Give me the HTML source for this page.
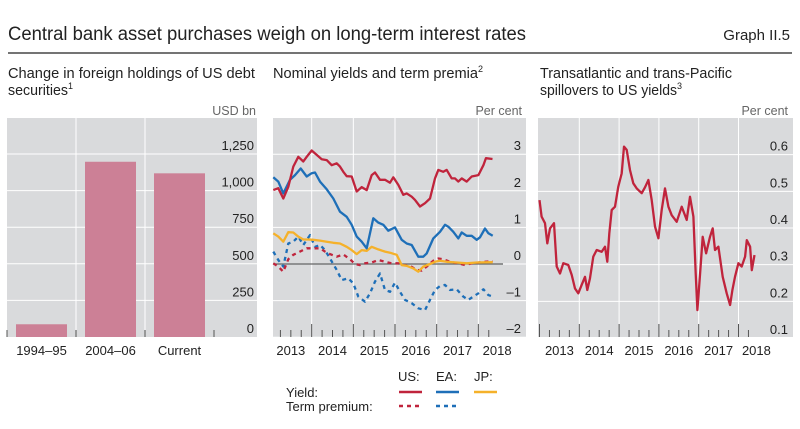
<!DOCTYPE html>
<html><head><meta charset="utf-8"><style>
body{margin:0;background:#fff}
svg text{font-family:"Liberation Sans",sans-serif;fill:#222}
</style></head><body>
<svg width="800" height="424" viewBox="0 0 800 424" xmlns="http://www.w3.org/2000/svg">
<text x="8" y="40" font-size="19" textLength="518" lengthAdjust="spacingAndGlyphs">Central bank asset purchases weigh on long-term interest rates</text>
<text x="790" y="40" font-size="15" text-anchor="end">Graph II.5</text>
<line x1="8" y1="53" x2="792" y2="53" stroke="#222" stroke-width="1.2"/>
<text x="8" y="78" font-size="14.5" textLength="247" lengthAdjust="spacingAndGlyphs">Change in foreign holdings of US debt</text>
<text x="8" y="95" font-size="14.5"><tspan textLength="60" lengthAdjust="spacingAndGlyphs">securities</tspan><tspan font-size="9" dy="-6">1</tspan></text>
<text x="273" y="78" font-size="14.5"><tspan textLength="205" lengthAdjust="spacingAndGlyphs">Nominal yields and term premia</tspan><tspan font-size="9" dy="-6">2</tspan></text>
<text x="540" y="78" font-size="14.5" textLength="192" lengthAdjust="spacingAndGlyphs">Transatlantic and trans-Pacific</text>
<text x="540" y="95" font-size="14.5"><tspan textLength="137" lengthAdjust="spacingAndGlyphs">spillovers to US yields</tspan><tspan font-size="9" dy="-6">3</tspan></text>
<text x="256" y="115" font-size="12.5" style="fill:#666" text-anchor="end">USD bn</text>
<text x="522" y="115" font-size="12.5" style="fill:#666" text-anchor="end">Per cent</text>
<text x="788" y="115" font-size="12.5" style="fill:#666" text-anchor="end">Per cent</text>
<g id="p1"></g><g id="p2"></g><g id="p3"></g>
<g font-size="13">
<text x="398" y="381">US:</text>
<text x="436" y="381">EA:</text>
<text x="474" y="381">JP:</text>
<text x="286" y="397">Yield:</text>
<text x="286" y="411">Term premium:</text>
<line x1="399" y1="392" x2="422" y2="392" stroke="#c0243c" stroke-width="2.5"/>
<line x1="436" y1="392" x2="459" y2="392" stroke="#1e6fb8" stroke-width="2.5"/>
<line x1="474" y1="392" x2="497" y2="392" stroke="#f5b12a" stroke-width="2.5"/>
<line x1="399" y1="406" x2="422" y2="406" stroke="#c0243c" stroke-width="2.5" stroke-dasharray="4,4"/>
<line x1="436" y1="406" x2="459" y2="406" stroke="#1e6fb8" stroke-width="2.5" stroke-dasharray="4,4"/>
</g>
</svg>
<script>
const barCategories=["1994–95","2004–06","Current"];
const barValues=[87,1197,1118];
const p1Ticks=[0,250,500,750,1000,1250];
const p1TickLabels=["0","250","500","750","1,000","1,250"];

const usYieldDates=[2013.08,2013.20,2013.32,2013.44,2013.56,2013.68,2013.80,2013.88,2014.00,2014.12,2014.24,2014.36,2014.48,2014.60,2014.68,2014.76,2014.84,2014.96,2015.08,2015.20,2015.32,2015.44,2015.52,2015.64,2015.76,2015.88,2015.96,2016.08,2016.20,2016.28,2016.40,2016.48,2016.60,2016.72,2016.84,2016.96,2017.04,2017.16,2017.24,2017.36,2017.44,2017.52,2017.60,2017.72,2017.84,2018.00,2018.12,2018.18,2018.34];
const usYield=[2.02,2.07,1.79,2.11,2.66,2.93,2.8,2.93,3.1,2.98,2.86,2.84,2.7,2.75,2.66,2.52,2.4,2.39,1.98,2.1,2.02,2.43,2.5,2.3,2.3,2.22,2.37,2.16,1.89,1.93,1.84,1.75,1.57,1.66,1.79,2.34,2.57,2.52,2.57,2.34,2.34,2.25,2.34,2.25,2.39,2.43,2.7,2.89,2.87];
const eaYieldDates=[2013.08,2013.20,2013.32,2013.48,2013.60,2013.736,2013.88,2014.00,2014.08,2014.20,2014.36,2014.52,2014.68,2014.84,2014.96,2015.08,2015.20,2015.32,2015.40,2015.48,2015.60,2015.72,2015.84,2016.00,2016.16,2016.28,2016.40,2016.56,2016.68,2016.76,2016.92,2017.08,2017.20,2017.28,2017.40,2017.52,2017.60,2017.72,2017.84,2017.96,2018.04,2018.16,2018.24,2018.344];
const eaYield=[2.37,2.25,1.93,2.3,2.43,2.61,2.39,2.48,2.5,2.25,2.04,1.79,1.43,1.29,1.07,0.75,0.61,0.43,0.84,1.25,1.13,1.07,0.91,1.0,0.66,0.56,0.52,0.2,0.2,0.29,0.7,0.88,1.07,1.02,0.88,0.7,0.86,0.77,0.77,0.66,0.73,0.97,0.84,0.77];
const jpYieldDates=[2013.08,2013.20,2013.32,2013.44,2013.56,2013.68,2013.80,2013.92,2014.04,2014.20,2014.36,2014.52,2014.68,2014.84,2014.96,2015.08,2015.20,2015.32,2015.44,2015.60,2015.76,2015.88,2016.04,2016.16,2016.28,2016.44,2016.56,2016.68,2016.84,2016.96,2017.08,2017.24,2017.48,2017.72,2017.96,2018.344];
const jpYield=[0.84,0.75,0.61,0.87,0.86,0.75,0.67,0.67,0.66,0.64,0.61,0.58,0.56,0.47,0.38,0.27,0.38,0.36,0.47,0.4,0.34,0.31,0.25,-0.03,-0.05,-0.12,-0.21,-0.07,0,0.06,0.09,0.06,0.04,0.02,0.04,0.05];
const usTpDates=[2013.08,2013.20,2013.32,2013.44,2013.56,2013.72,2013.88,2014.04,2014.20,2014.32,2014.44,2014.60,2014.76,2014.92,2015.04,2015.16,2015.28,2015.44,2015.60,2015.76,2015.92,2016.08,2016.20,2016.36,2016.52,2016.64,2016.76,2016.92,2017.04,2017.16,2017.32,2017.52,2017.68,2017.84,2018.00,2018.16,2018.344];
const usTp=[0.02,-0.07,-0.21,0.13,0.25,0.34,0.43,0.43,0.43,0.34,0.27,0.2,0.26,0.13,0,-0.03,0.02,0.04,0.11,0.06,0.02,0.02,-0.03,-0.05,-0.16,-0.18,-0.07,0.09,0.15,0.13,0.06,0.02,-0.03,0.02,0.04,0.06,0.08];
const eaTpDates=[2013.08,2013.20,2013.32,2013.44,2013.56,2013.68,2013.80,2013.96,2014.08,2014.20,2014.32,2014.44,2014.60,2014.72,2014.88,2015.00,2015.12,2015.28,2015.40,2015.52,2015.64,2015.76,2015.88,2016.00,2016.12,2016.24,2016.40,2016.56,2016.72,2016.84,2016.96,2017.08,2017.20,2017.32,2017.48,2017.64,2017.76,2017.88,2018.00,2018.12,2018.24,2018.344];
const eaTp=[0.34,0.11,-0.07,0.56,0.61,0.75,0.52,0.79,0.47,0.52,0.38,0.15,-0.16,-0.44,-0.39,-0.53,-0.89,-1.03,-0.8,-0.48,-0.26,-0.71,-0.76,-0.51,-0.76,-0.98,-1.07,-1.21,-1.26,-0.98,-0.71,-0.6,-0.57,-0.71,-0.69,-0.89,-0.98,-0.89,-0.8,-0.69,-0.85,-0.89];
const p2Ticks=[-2,-1,0,1,2,3];
const p2TickLabels=["–2","–1","0","1","2","3"];
const yearLabels=["2013","2014","2015","2016","2017","2018"];
const yearLabelPos=[2013.5,2014.5,2015.5,2016.5,2017.5,2018.45];

const spillDates=[2013.00,2013.054,2013.138,2013.197,2013.264,2013.364,2013.431,2013.515,2013.599,2013.724,2013.808,2013.892,2013.976,2014.06,2014.143,2014.202,2014.269,2014.353,2014.436,2014.562,2014.646,2014.704,2014.755,2014.813,2014.897,2014.981,2015.065,2015.124,2015.191,2015.274,2015.358,2015.442,2015.568,2015.651,2015.735,2015.819,2015.903,2015.987,2016.07,2016.154,2016.238,2016.322,2016.448,2016.573,2016.698,2016.782,2016.866,2016.925,2016.967,2017.034,2017.101,2017.185,2017.285,2017.351,2017.41,2017.494,2017.603,2017.704,2017.788,2017.846,2017.913,2017.997,2018.081,2018.165,2018.208,2018.292,2018.334,2018.401];
const spill=[0.476,0.431,0.413,0.358,0.399,0.413,0.295,0.276,0.304,0.299,0.272,0.235,0.222,0.245,0.267,0.231,0.263,0.322,0.34,0.335,0.349,0.308,0.385,0.449,0.458,0.513,0.549,0.622,0.613,0.558,0.522,0.508,0.495,0.511,0.531,0.476,0.404,0.372,0.449,0.508,0.458,0.435,0.417,0.458,0.422,0.485,0.431,0.276,0.176,0.276,0.376,0.331,0.376,0.399,0.34,0.349,0.267,0.222,0.19,0.231,0.267,0.304,0.295,0.322,0.367,0.349,0.285,0.326];
const p3Ticks=[0.1,0.2,0.3,0.4,0.5,0.6];
const p3TickLabels=["0.1","0.2","0.3","0.4","0.5","0.6"];

const NS="http://www.w3.org/2000/svg";
const GRAY="#d9dadc";
function mk(parent,tag,attrs){const e=document.createElementNS(NS,tag);for(const k in attrs)e.setAttribute(k,attrs[k]);parent.appendChild(e);return e;}

(function(){
const g=document.getElementById('p1');
const top=118,bot=337,left=7,right=257;
const y=v=>bot-v/250*36.6;
let bg=mk(g,'rect',{x:left,y:top,width:right-left,height:bot-top,fill:GRAY});


p1Ticks.forEach((t,i)=>{
 if(i>0){let l=mk(g,'line',{x1:left,x2:right,y1:y(t),y2:y(t),stroke:'#fff','stroke-width':1});
 
 }
 let tx=mk(g,'text',{x:254,y:y(t)-4,'font-size':13,'text-anchor':'end'});tx.textContent=p1TickLabels[i];
 
 
});
const bw=69;
barCategories.forEach((c,i)=>{
 const x0=left+i*bw;
 if(i>0){let l=mk(g,'line',{x1:x0,x2:x0,y1:top,y2:bot,stroke:'#fff','stroke-width':1});
 
 }
 let r=mk(g,'rect',{x:x0+9,y:y(barValues[i]),width:51,height:bot-y(barValues[i]),fill:'#cc8096'});
 
 
 let tx=mk(g,'text',{x:x0+34.5,y:355,'font-size':13,'text-anchor':'middle'});tx.textContent=c;
 
 
});
for(let i=0;i<=3;i++){let l=mk(g,'line',{x1:left+i*bw,x2:left+i*bw,y1:330,y2:337,stroke:'#555','stroke-width':1});
 
 }
})();

function timePanel(g,opt){
 const {left,right,top,bot,x0,yw,y,ticks,labels,labX,name}=opt;
 const x=t=>x0+(t-2013)*yw;
 let bg=mk(g,'rect',{x:left,y:top,width:right-left,height:bot-top,fill:GRAY});
 
 
 ticks.forEach((t,i)=>{
  let l=mk(g,'line',{x1:left,x2:right,y1:y(t),y2:y(t),stroke:'#fff','stroke-width':1});
  
  
  let tx=mk(g,'text',{x:labX,y:y(t)-4,'font-size':13,'text-anchor':'end'});tx.textContent=labels[i];
  
  
 });
 for(let yr=2014;yr<=2018;yr++){let l=mk(g,'line',{x1:x(yr),x2:x(yr),y1:top,y2:bot,stroke:'#fff','stroke-width':1});
  
  }
 for(let q=0;q<22;q++){const t=2013+q*0.25;const xx=x(t);if(xx<left)continue;
  const major=q%4===0;
  let l=mk(g,'line',{x1:xx,x2:xx,y1:major?324:330,y2:bot,stroke:'#555','stroke-width':1});
  
  }
 yearLabels.forEach((lb,i)=>{let tx=mk(g,'text',{x:x(yearLabelPos[i]),y:355,'font-size':13,'text-anchor':'middle'});tx.textContent=lb;
  
  });
 return x;
}
function line(g,x,y,dates,vals,color,dash,name){
 const d=dates.map((t,i)=>(i?'L':'M')+x(t).toFixed(1)+','+y(vals[i]).toFixed(1)).join('');
 const a={d:d,fill:'none',stroke:color,'stroke-width':2.3,'stroke-linejoin':'round'};
 if(dash)a['stroke-dasharray']=dash;
 let p=mk(g,'path',a);
 
 
}

(function(){
const g=document.getElementById('p2');
const y=v=>264-v*36.6;
const x=timePanel(g,{left:273,right:526,top:118,bot:337,x0:270,yw:41.67,y,ticks:p2Ticks,labels:p2TickLabels,labX:521,name:'panel2'});
let z=mk(g,'line',{x1:273,x2:503,y1:y(0),y2:y(0),stroke:'#666','stroke-width':1.2});


line(g,x,y,eaTpDates,eaTp,'#1e6fb8','4,4','ea-term-premium-line');
line(g,x,y,usTpDates,usTp,'#c0243c','4,4','us-term-premium-line');
line(g,x,y,jpYieldDates,jpYield,'#f5b12a',null,'jp-yield-line');
line(g,x,y,eaYieldDates,eaYield,'#1e6fb8',null,'ea-yield-line');
line(g,x,y,usYieldDates,usYield,'#c0243c',null,'us-yield-line');
})();

(function(){
const g=document.getElementById('p3');
const y=v=>338-(v-0.1)*366.7;
const x=timePanel(g,{left:538,right:793,top:118,bot:337,x0:539.5,yw:39.8,y,ticks:p3Ticks,labels:p3TickLabels,labX:788,name:'panel3'});
line(g,x,y,spillDates,spill,'#c0243c',null,'spillover-line');
})();
</script>
</body></html>
